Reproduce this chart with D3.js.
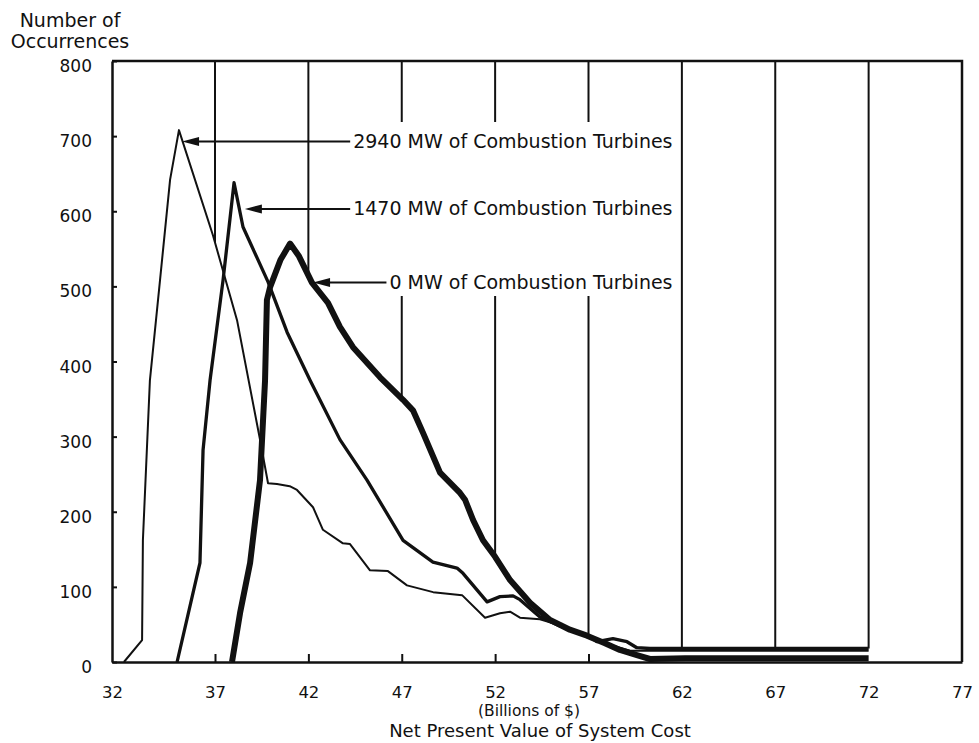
<!DOCTYPE html>
<html>
<head>
<meta charset="utf-8">
<script src="https://cdn.jsdelivr.net/npm/d3@7"></script>
<style>
body { margin: 0; background: #fff; }
svg text { font-family: "DejaVu Sans", sans-serif; fill: #111; }
</style>
</head>
<body>
<div id="chart"></div>
<script>
// tick values
const xTicks = [32, 37, 42, 47, 52, 57, 62, 67, 72, 77];
const xSmallTicks = [37, 42, 47, 52, 57];
const gridValues = [37, 42, 47, 52, 57, 62, 67, 72];
const yTicks = [0, 100, 200, 300, 400, 500, 600, 700, 800];

// [cost in billions $, number of occurrences]
const ct2940 = [
    [32.58, 0], [33.46, 29], [33.50, 162], [33.84, 375], [34.33, 508], [34.82, 642], [35.25, 708],
    [36.90, 568], [38.18, 455], [39.41, 296], [39.84, 238], [40.32, 237], [41.0, 234], [41.39, 229],
    [42.25, 206], [42.78, 176], [43.85, 158], [44.23, 157], [45.30, 122], [46.26, 121], [47.28, 102],
    [48.68, 93], [50.23, 89], [51.46, 59], [52.26, 65], [52.80, 67], [53.33, 59], [54.40, 57],
    [55.47, 49], [56.92, 35], [58.15, 23], [59.22, 15], [60.0, 15], [72, 15]
];
const ct1470 = [
    [35.16, 0], [36.27, 132], [36.42, 282], [36.76, 375], [37.43, 508], [38.02, 638], [38.50, 579],
    [39.84, 506], [40.86, 439], [42.09, 375], [43.69, 296], [45.14, 242], [47.07, 162], [48.67, 133],
    [49.96, 125], [50.28, 118], [51.57, 80], [52.26, 87], [52.96, 88], [53.33, 83], [54.40, 60],
    [55.47, 48], [56.92, 36], [57.45, 27], [58.31, 31], [59.06, 27], [59.59, 19], [60.29, 18], [72, 18]
];
const ct0 = [
    [37.91, 0], [38.34, 65], [38.88, 132], [39.41, 242], [39.68, 375], [39.78, 482], [39.95, 499],
    [40.5, 535], [41.02, 557], [41.5, 540], [42.19, 505], [43.05, 478], [43.69, 446], [44.39, 419],
    [45.84, 379], [47.07, 349], [47.60, 335], [48.14, 305], [49.05, 252], [50.12, 225], [50.39, 216],
    [50.82, 189], [51.35, 162], [52.0, 140], [52.80, 109], [53.87, 79], [54.94, 56], [56.0, 43],
    [56.92, 35], [57.88, 25], [58.68, 16], [59.59, 9], [60.29, 4], [62.17, 5], [72, 5]
];

const seriesLabels = ["2940 MW of Combustion Turbines", "1470 MW of Combustion Turbines", "0 MW of Combustion Turbines"];
// arrow tip (cost, occurrences) for each label
const arrowTips = [[35.4, 693], [38.6, 603], [42.25, 505]];
const labelEnd = 61.5;

const width = 979, height = 743;
const svg = d3.select("#chart").append("svg")
    .attr("width", width)
    .attr("height", height);

const x = d3.scaleLinear().domain([32, 37, 77]).range([112, 215, 962]);
const y = d3.scaleLinear().domain([0, 800]).range([662, 61]);

const allSeries = [ct2940, ct1470, ct0];
const widths = [2, 3.3, 6];

function valueAt(pts, v) {
    if (v < pts[0][0] || v > pts[pts.length - 1][0]) return 0;
    const i = d3.bisector(d => d[0]).right(pts, v);
    if (i >= pts.length) return pts[pts.length - 1][1];
    const a = pts[i - 1], b = pts[i];
    return a[1] + (b[1] - a[1]) * (v - a[0]) / (b[0] - a[0]);
}

// grid lines stop where they meet the highest curve
svg.append("g").selectAll("line")
    .data(gridValues)
    .join("line")
    .attr("x1", d => x(d)).attr("x2", d => x(d))
    .attr("y1", y(800))
    .attr("y2", d => y(d3.max(allSeries, s => valueAt(s, d))))
    .attr("stroke", "#111")
    .attr("stroke-width", 2);

// frame top and right
svg.append("path")
    .attr("d", `M${x(32)},${y(800)}H${x(77)}V${y(0)}`)
    .attr("fill", "none")
    .attr("stroke", "#111")
    .attr("stroke-width", 2.5);

// label block hides grid lines
svg.append("rect")
    .attr("x", 344).attr("y", 122)
    .attr("width", 333).attr("height", 174)
    .attr("fill", "#fff");

// axes
const yAxis = svg.append("g")
    .attr("transform", `translate(${x(32)},0)`)
    .call(d3.axisLeft(y).tickValues(yTicks).tickSizeInner(-5).tickSizeOuter(0).tickPadding(20));
yAxis.selectAll("text").attr("dy", "0.62em").style("font-size", "17px");

const xAxis = svg.append("g")
    .attr("transform", `translate(0,${y(0)})`)
    .call(d3.axisBottom(x).tickValues(xTicks).tickSize(0).tickPadding(24));
xAxis.selectAll("text").style("font-size", "16.5px");

svg.append("g")
    .attr("transform", `translate(0,${y(0)})`)
    .call(d3.axisBottom(x).tickValues(xSmallTicks).tickSizeInner(-8).tickSizeOuter(0).tickFormat(""))
    .call(g => g.select(".domain").remove());

svg.selectAll(".domain").attr("stroke", "#111").attr("stroke-width", 2.5);
svg.selectAll(".tick line").attr("stroke", "#111").attr("stroke-width", 2);

// curves
const line = d3.line().x(d => x(d[0])).y(d => y(d[1]));
svg.append("g").selectAll("path")
    .data(allSeries)
    .join("path")
    .attr("d", line)
    .attr("fill", "none")
    .attr("stroke", "#111")
    .attr("stroke-width", (d, i) => widths[i])
    .attr("stroke-linejoin", "round");

// labels with arrows
seriesLabels.forEach((lab, i) => {
    const tx = x(arrowTips[i][0]), ty = y(arrowTips[i][1]);
    const t = svg.append("text")
        .attr("x", x(labelEnd))
        .attr("y", ty)
        .attr("dy", "0.34em")
        .attr("text-anchor", "end")
        .style("font-size", "19px")
        .text(lab);
    const start = x(labelEnd) - t.node().getComputedTextLength() - 3;
    svg.append("line")
        .attr("x1", start).attr("x2", tx + 12)
        .attr("y1", ty).attr("y2", ty)
        .attr("stroke", "#111")
        .attr("stroke-width", 2);
    svg.append("path")
        .attr("d", `M${tx},${ty}L${tx + 17},${ty - 4.5}L${tx + 17},${ty + 4.5}Z`)
        .attr("fill", "#111");
});

// titles
svg.append("text").attr("x", 70).attr("y", 27).attr("text-anchor", "middle")
    .style("font-size", "19px").text("Number of");
svg.append("text").attr("x", 70).attr("y", 48).attr("text-anchor", "middle")
    .style("font-size", "19px").text("Occurrences");
svg.append("text").attr("x", 529).attr("y", 715.5).attr("text-anchor", "middle")
    .style("font-size", "15.5px").text("(Billions of $)");
svg.append("text").attr("x", 540).attr("y", 737).attr("text-anchor", "middle")
    .style("font-size", "18px").text("Net Present Value of System Cost");
</script>
</body>
</html>
